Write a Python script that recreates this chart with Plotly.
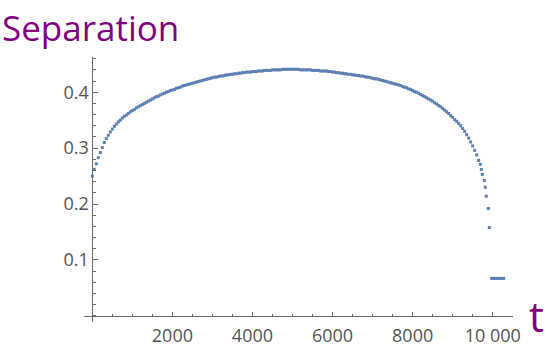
import plotly.graph_objects as go

# regular samples, every 50 time units from 0 to 9650
t_regular = list(range(0, 9700, 50))
sep_regular = [
    0.250, 0.262, 0.272, 0.283, 0.292, 0.301, 0.310, 0.317, 0.323, 0.329,
    0.334, 0.339, 0.343, 0.347, 0.350, 0.354, 0.357, 0.359, 0.362, 0.365,
    0.367, 0.369, 0.372, 0.374, 0.376, 0.378, 0.380, 0.382, 0.384, 0.386,
    0.388, 0.390, 0.392, 0.393, 0.395, 0.397, 0.398, 0.400, 0.401, 0.403,
    0.404, 0.405, 0.407, 0.408, 0.409, 0.411, 0.412, 0.413, 0.414, 0.415,
    0.416, 0.417, 0.418, 0.419, 0.420, 0.421, 0.422, 0.423, 0.424, 0.425,
    0.426, 0.427, 0.427, 0.428, 0.429, 0.429, 0.430, 0.431, 0.431, 0.432,
    0.432, 0.433, 0.433, 0.434, 0.434, 0.435, 0.435, 0.436, 0.436, 0.436,
    0.437, 0.437, 0.437, 0.438, 0.438, 0.438, 0.439, 0.439, 0.439, 0.439,
    0.440, 0.440, 0.440, 0.440, 0.440, 0.441, 0.441, 0.441, 0.441, 0.441,
    0.441, 0.441, 0.441, 0.441, 0.440, 0.440, 0.440, 0.440, 0.440, 0.440,
    0.439, 0.439, 0.439, 0.439, 0.438, 0.438, 0.438, 0.438, 0.437, 0.437,
    0.436, 0.436, 0.435, 0.435, 0.434, 0.434, 0.433, 0.433, 0.432, 0.432,
    0.431, 0.431, 0.430, 0.430, 0.429, 0.429, 0.428, 0.427, 0.427, 0.426,
    0.425, 0.424, 0.424, 0.423, 0.422, 0.421, 0.420, 0.419, 0.418, 0.417,
    0.416, 0.415, 0.414, 0.413, 0.412, 0.410, 0.409, 0.408, 0.406, 0.405,
    0.403, 0.401, 0.400, 0.398, 0.396, 0.394, 0.392, 0.390, 0.388, 0.386,
    0.384, 0.381, 0.379, 0.376, 0.374, 0.371, 0.368, 0.365, 0.362, 0.358,
    0.355, 0.351, 0.348, 0.344, 0.340, 0.335, 0.330, 0.324, 0.318, 0.311,
    0.304, 0.296, 0.288, 0.278,
]

# steep drop just before contact
t_drop = [9690, 9715, 9740, 9790, 9815, 9840, 9890, 9915]
sep_drop = [0.271, 0.262, 0.253, 0.242, 0.230, 0.214, 0.192, 0.158]

# flat tail after contact
t_tail = [9975, 10025, 10075, 10125, 10175, 10225, 10275]
sep_tail = [0.067, 0.067, 0.067, 0.067, 0.067, 0.067, 0.067]

x_ticks = [2000, 4000, 6000, 8000, 10000]
x_labels = ["2000", "4000", "6000", "8000", "10 000"]
y_ticks = [0.1, 0.2, 0.3, 0.4]
y_labels = ["0.1", "0.2", "0.3", "0.4"]

X_RANGE = [-207, 10507]
Y_RANGE = [-0.011, 0.463]

t_all = t_regular + t_drop + t_tail
sep_all = sep_regular + sep_drop + sep_tail

AXIS_GRAY = "#6b6b6b"
LABEL_GRAY = "#555555"
PURPLE = "#800080"

fig = go.Figure()
fig.add_trace(
    go.Scatter(
        x=t_all,
        y=sep_all,
        mode="markers",
        marker=dict(symbol="square", size=3, color="#5e81b5", line=dict(width=0)),
        showlegend=False,
        hoverinfo="x+y",
    )
)

x_zero = (0 - X_RANGE[0]) / (X_RANGE[1] - X_RANGE[0])
y_zero = (0 - Y_RANGE[0]) / (Y_RANGE[1] - Y_RANGE[0])

fig.update_layout(
    width=547,
    height=346,
    margin=dict(l=84, r=34, t=57, b=24, autoexpand=False),
    paper_bgcolor="white",
    plot_bgcolor="white",
    font=dict(family="Open Sans, sans-serif", color=LABEL_GRAY),
    xaxis=dict(
        range=X_RANGE,
        anchor="free",
        position=y_zero,
        automargin=False,
        showgrid=False,
        zeroline=False,
        showline=True,
        linecolor=AXIS_GRAY,
        linewidth=1,
        ticks="inside",
        ticklen=4,
        tickcolor=AXIS_GRAY,
        tickvals=x_ticks,
        ticktext=x_labels,
        ticklabelstandoff=4,
        tickfont=dict(size=18, color=LABEL_GRAY),
        minor=dict(dtick=500, tick0=0, ticks="inside", ticklen=2, tickcolor=AXIS_GRAY),
    ),
    yaxis=dict(
        range=Y_RANGE,
        anchor="free",
        position=x_zero,
        automargin=False,
        showgrid=False,
        zeroline=False,
        showline=True,
        linecolor=AXIS_GRAY,
        linewidth=1,
        ticks="inside",
        ticklen=5,
        tickcolor=AXIS_GRAY,
        tickvals=y_ticks,
        ticktext=y_labels,
        tickfont=dict(size=18, color=LABEL_GRAY),
        minor=dict(dtick=0.02, tick0=0, ticks="inside", ticklen=3, tickcolor=AXIS_GRAY),
    ),
    annotations=[
        dict(
            text="Separation",
            xref="paper",
            yref="paper",
            x=-84 / 429,
            y=1 + 55 / 265,
            xanchor="left",
            yanchor="top",
            showarrow=False,
            font=dict(family="Open Sans, sans-serif", size=35, color=PURPLE),
        ),
        dict(
            text="t",
            xref="paper",
            yref="paper",
            x=1.0,
            y=y_zero,
            xanchor="left",
            yanchor="middle",
            xshift=14,
            yshift=0,
            showarrow=False,
            font=dict(family="Open Sans, sans-serif", size=42, color=PURPLE),
        ),
    ],
)

fig.write_html(
    "out.html",
    config={"displayModeBar": False},
    post_script="document.body.style.margin = '0';",
)
